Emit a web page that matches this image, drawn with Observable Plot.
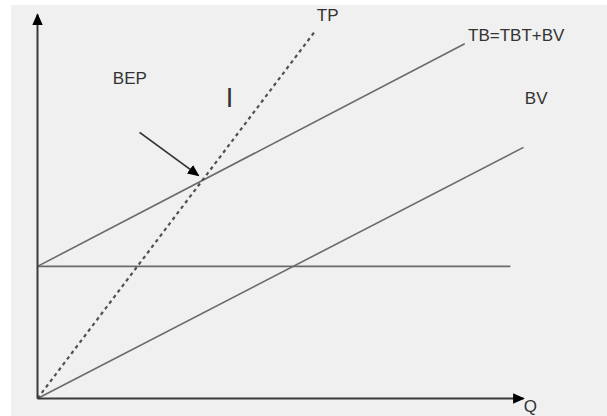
<!DOCTYPE html>
<html>
<head>
<meta charset="utf-8">
<script src="https://cdn.jsdelivr.net/npm/d3@7"></script>
<script src="https://cdn.jsdelivr.net/npm/@observablehq/plot@0.6"></script>
<style>
  html, body { margin: 0; padding: 0; background: #ffffff; }
  #wrap { position: relative; width: 607px; height: 416px; overflow: hidden; }
  #panel { position: absolute; left: 11px; top: 5px; width: 596px; height: 411px; background: #f0f0f0; }
  #chart { position: absolute; left: 0; top: 0; }
  #chart svg { background: transparent; }
</style>
</head>
<body>
<div id="wrap"><div id="panel"></div><div id="chart"></div></div>
<script>
// Line segments (data units: Q on x 0..100, value on y 0..100)
const lineNames = ["TBT", "BV", "TB", "TP"];
const lineX1 = [0, 0, 0, 0];
const lineY1 = [34.4, 0, 34.4, 0];
const lineX2 = [97.3, 100, 87.9, 57.2];
const lineY2 = [34.4, 65.4, 92.4, 95.8];

// Axes (origin to arrow tips)
const axisNames = ["Q axis", "value axis"];
const axisX2 = [100, 0];
const axisY2 = [0, 100];

// BEP pointer arrow
const bepArrowFrom = [21.0, 69.3];
const bepArrowTo = [33.1, 58.1];

// Text labels
const labelTexts = ["BEP", "TP", "TB=TBT+BV", "BV", "Q"];
const labelX = [19.0, 59.7, 98.5, 102.6, 101.4];
const labelY = [82.0, 98.4, 93.2, 76.8, -3.4];
const markText = ["I"];
const markX = [39.5];
const markY = [75.8];

const lines = lineNames.map((name, i) => ({name, x1: lineX1[i], y1: lineY1[i], x2: lineX2[i], y2: lineY2[i]}));
const solid = lines.filter(d => d.name !== "TP");
const dashed = lines.filter(d => d.name === "TP");
const axes = axisNames.map((name, i) => ({name, x1: 0, y1: 0, x2: axisX2[i], y2: axisY2[i]}));
const arrows = [{x1: bepArrowFrom[0], y1: bepArrowFrom[1], x2: bepArrowTo[0], y2: bepArrowTo[1]}];
const labels = labelTexts.map((t, i) => ({t, x: labelX[i], y: labelY[i]}));
const marks2 = markText.map((t, i) => ({t, x: markX[i], y: markY[i]}));

const chart = Plot.plot({
  width: 607,
  height: 416,
  marginLeft: 0, marginRight: 0, marginTop: 0, marginBottom: 0,
  x: {domain: [0, 100], range: [37, 523], axis: null},
  y: {domain: [0, 100], range: [398, 14], axis: null},
  style: {background: "transparent", fontFamily: "'Liberation Sans', Arial, sans-serif"},
  marks: [
    Plot.link(solid, {x1: "x1", y1: "y1", x2: "x2", y2: "y2", stroke: "#6a6a6a", strokeWidth: 1.6}),
    Plot.link(dashed, {x1: "x1", y1: "y1", x2: "x2", y2: "y2", stroke: "#505050", strokeWidth: 2.2, strokeDasharray: "3.5,3.5"}),
    Plot.link(axes, {x1: "x1", y1: "y1", x2: "x2", y2: "y2", stroke: "#3a3a3a", strokeWidth: 2, markerEnd: "arrow"}),
    Plot.link(arrows, {x1: "x1", y1: "y1", x2: "x2", y2: "y2", stroke: "#333333", strokeWidth: 1.8, markerEnd: "arrow"}),
    Plot.text(labels, {x: "x", y: "y", text: "t", fill: "#333333", fontSize: 17, textAnchor: "middle", lineAnchor: "bottom"}),
    Plot.text(marks2, {x: "x", y: "y", text: "t", fill: "#333333", fontSize: 27, fontWeight: "normal", textAnchor: "middle", lineAnchor: "bottom"})
  ]
});

// Turn Plot's open arrow markers into filled triangles
chart.querySelectorAll("marker").forEach(m => {
  m.setAttribute("viewBox", "-8 -5 10 10");
  m.setAttribute("markerUnits", "userSpaceOnUse");
  m.setAttribute("markerWidth", "13");
  m.setAttribute("markerHeight", "13");
  m.setAttribute("fill", "currentColor");
  m.setAttribute("stroke", "none");
  const p = m.querySelector("path");
  if (p) p.setAttribute("d", "M-8,-4L1,0L-8,4Z");
});

document.getElementById("chart").appendChild(chart);
</script>
</body>
</html>
